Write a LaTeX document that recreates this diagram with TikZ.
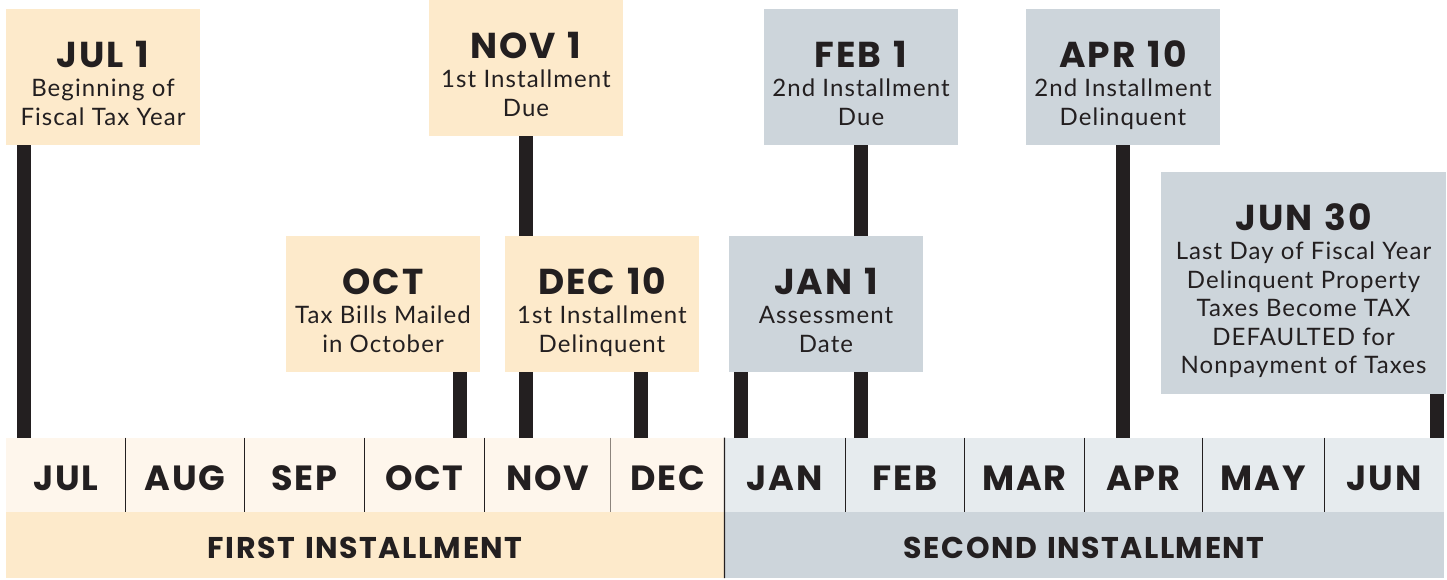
\documentclass[tikz,border=0pt]{standalone}
\usepackage{fontspec}
\newfontfamily\titlef{Poppins}[LetterSpace=5,WordSpace=1.3]
\newfontfamily\bodyf{Lato}[LetterSpace=4.5]
\definecolor{creamBox}{HTML}{FDEACB}
\definecolor{creamRow}{HTML}{FEF6EC}
\definecolor{grayBox}{HTML}{CDD5DB}
\definecolor{grayRow}{HTML}{E6EBEE}
\definecolor{ink}{HTML}{231F20}
\definecolor{softline}{HTML}{8C847C}
\pgfdeclarelayer{bg}
\pgfsetlayers{bg,main}
\newcommand\evtext[4]{\parbox[c][#1][t]{#2}{\centering\fontsize{24}{28.5}\bodyf\rule{0pt}{58pt}{\titlef\bfseries\fontsize{36}{36}\selectfont #3}\\[1pt]#4\par}}
\begin{document}
\begin{tikzpicture}[x=1pt,y=-1pt,
  evbox/.style={rectangle,inner sep=0pt,outer sep=0pt,anchor=north west,text=ink},
  month/.style={rectangle,inner sep=0pt,outer sep=0pt,minimum height=74pt,text=ink,
     font=\titlef\bfseries\fontsize{35}{35}\selectfont,text height=31.6pt,text depth=0pt},
  band/.style={rectangle,inner sep=0pt,outer sep=0pt,minimum height=66.3pt,text=ink,
     font=\titlef\bfseries\fontsize{30}{30}\selectfont,text height=28pt,text depth=0pt},
  bar/.style={draw=ink,line width=13.5pt,line cap=butt},
  divider/.style={draw=ink,line width=1.3pt}]
\useasboundingbox (0,0) rectangle (1447,579);
% month row
\foreach \n/\a/\b/\c in {JUL/6/125.7/creamRow,AUG/125.7/244.7/creamRow,SEP/244.7/364.5/creamRow,
  OCT/364.5/484.3/creamRow,NOV/484.3/610.8/creamRow,DEC/610.8/724.5/creamRow,
  JAN/724.5/845.3/grayRow,FEB/845.3/964.3/grayRow,MAR/964.3/1084.3/grayRow,
  APR/1084.3/1202.3/grayRow,MAY/1202.3/1324.3/grayRow,JUN/1324.3/1444/grayRow}
  \node[month,fill=\c,minimum width={(\b-\a)*1pt}] (m\n) at ({(\a+\b)/2},474.7) {\n};
% installment bands
\node[band,fill=creamBox,minimum width=718.5pt] (first) at (365.25,544.85) {FIRST INSTALLMENT};
\node[band,fill=grayBox,minimum width=719.5pt] (second) at (1084.25,544.85) {SECOND INSTALLMENT};
% dividers
\foreach \n in {JUL,AUG,SEP,OCT,JAN,FEB,MAR,APR,MAY}
  \draw[divider] (m\n.north east) -- (m\n.south east);
\draw[divider,draw=softline] (mNOV.north east) -- (mNOV.south east);
\draw[divider] (mDEC.north east) -- (first.south east);
% event boxes
\node[evbox,fill=creamBox] (jul1) at (6,9) {\evtext{136pt}{194pt}{JUL 1}{Beginning of\\Fiscal Tax Year}};
\node[evbox,fill=creamBox] (nov1) at (429,0) {\evtext{136pt}{194pt}{NOV 1}{1st Installment\\Due}};
\node[evbox,fill=creamBox] (oct) at (286,236) {\evtext{136pt}{194pt}{OCT}{Tax Bills Mailed\\in October}};
\node[evbox,fill=creamBox] (dec10) at (505,236) {\evtext{136pt}{194pt}{DEC 10}{1st Installment\\Delinquent}};
\node[evbox,fill=grayBox] (feb1) at (764,9) {\evtext{136pt}{194pt}{FEB 1}{2nd Installment\\Due}};
\node[evbox,fill=grayBox] (jan1) at (729,236) {\evtext{136pt}{194pt}{JAN 1}{Assessment\\Date}};
\node[evbox,fill=grayBox] (apr10) at (1026,9) {\evtext{136pt}{194pt}{APR 10}{2nd Installment\\Delinquent}};
\node[evbox,fill=grayBox] (jun30) at (1161,172) {\evtext{222pt}{285pt}{JUN 30}{Last Day of Fiscal Year\\Delinquent Property\\Taxes Become TAX\\DEFAULTED for\\Nonpayment of Taxes}};
% bar ends on the month row
\coordinate (tJUL) at (24,437.7);
\coordinate (tOCT) at (460,437.7);
\coordinate (tNOV) at (526,437.7);
\coordinate (tDEC) at (641,437.7);
\coordinate (tJAN) at (741,437.7);
\coordinate (tFEB) at (861,437.7);
\coordinate (tAPR) at (1123,437.7);
\coordinate (tJUN) at (1437,437.7);
\begin{pgfonlayer}{bg}
\draw[bar] (jul1.south -| tJUL) -- (tJUL);
\draw[bar] (oct.south -| tOCT) -- (tOCT);
\draw[bar] (nov1.south -| tNOV) -- (tNOV);
\draw[bar] (dec10.south -| tDEC) -- (tDEC);
\draw[bar] (jan1.south -| tJAN) -- (tJAN);
\draw[bar] (feb1.south -| tFEB) -- (tFEB);
\draw[bar] (apr10.south -| tAPR) -- (tAPR);
\draw[bar] (jun30.south -| tJUN) -- (tJUN);
\end{pgfonlayer}
\end{tikzpicture}
\end{document}
